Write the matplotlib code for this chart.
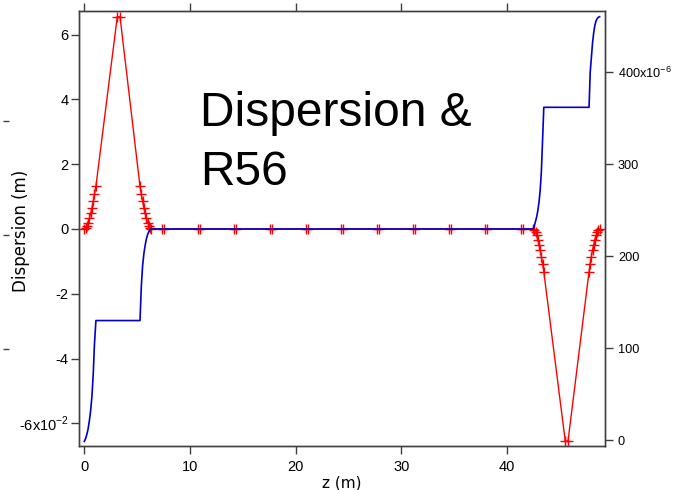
import matplotlib
matplotlib.use("Agg")
import matplotlib.pyplot as plt
from matplotlib.ticker import FixedLocator, FuncFormatter

plt.rcParams['font.family'] = ['Liberation Sans', 'DejaVu Sans']
plt.rcParams['mathtext.fontset'] = 'custom'
plt.rcParams['mathtext.rm'] = 'Liberation Sans'

# dispersion (m) along z (m), red trace with slice markers
z_disp = [0.0, 0.12, 0.24, 0.36, 0.48, 0.60, 0.72, 0.84, 0.96, 1.10,
          3.12, 3.38,
          5.27, 5.40, 5.52, 5.64, 5.76, 5.88, 6.00, 6.12, 6.22, 6.32,
          7.37, 7.57, 10.76, 10.96, 14.15, 14.35, 17.54, 17.74, 20.93, 21.13,
          24.32, 24.52, 27.71, 27.91, 31.10, 31.30, 34.49, 34.69, 37.88, 38.08,
          41.27, 41.47,
          42.45, 42.57, 42.69, 42.80, 42.91, 43.02, 43.13, 43.24, 43.35, 43.47,
          45.50, 45.76,
          47.75, 47.86, 47.97, 48.08, 48.19, 48.30, 48.41, 48.52, 48.63, 48.75]
disp_cm = [0, 0.03, 0.10, 0.20, 0.33, 0.48, 0.65, 0.85, 1.07, 1.32,
           6.55, 6.55,
           1.32, 1.07, 0.85, 0.65, 0.48, 0.33, 0.20, 0.10, 0.03, 0,
           0, 0, 0, 0, 0, 0, 0, 0, 0, 0,
           0, 0, 0, 0, 0, 0, 0, 0, 0, 0,
           0, 0,
           0, -0.03, -0.10, -0.20, -0.33, -0.48, -0.65, -0.85, -1.07, -1.32,
           -6.55, -6.55,
           -1.32, -1.07, -0.85, -0.65, -0.48, -0.33, -0.20, -0.10, -0.03, 0]
disp = [v * 1e-2 for v in disp_cm]

# R56 (m) along z (m), blue trace
z_r56 = [0.0, 0.12, 0.24, 0.36, 0.48, 0.60, 0.72, 0.84, 0.96, 1.10,
         5.27, 5.40, 5.52, 5.64, 5.76, 5.88, 6.00, 6.12, 6.22, 6.32,
         42.45, 42.57, 42.69, 42.80, 42.91, 43.02, 43.13, 43.24, 43.35, 43.47,
         47.75, 47.86, 47.97, 48.08, 48.19, 48.30, 48.41, 48.52, 48.63, 48.75]
r56_um = [-1.5, 1.5, 6, 12, 21, 32, 47, 70, 104, 130,
          130, 168, 190, 203, 212, 219, 224, 227, 229, 229.6,
          229.6, 233, 238, 243, 250, 259, 272, 292, 325, 362,
          362, 400, 416, 432, 443, 451, 456, 458.5, 460, 460.6]
r56 = [v * 1e-6 for v in r56_um]

disp_ticks = [-0.06, -0.04, -0.02, 0, 0.02, 0.04, 0.06]
r56_ticks = [0, 100e-6, 200e-6, 300e-6, 400e-6]
z_ticks = [0, 10, 20, 30, 40]

fig = plt.figure(figsize=(6.73, 4.90), dpi=100)
ax = fig.add_axes([79 / 673, 44 / 490, 526 / 673, 435 / 490])
ax2 = ax.twinx()
ax3 = ax.twinx()

frame = '0.25'
tick_len = 5.8

ax.plot(z_disp, disp, color='#ff0000', lw=1.0, marker='+', ms=7, mew=1.0)
ax2.plot(z_r56, r56, color='#0000c8', lw=1.2)

ax.set_xlim(-0.5, 49.26)
ax.set_ylim(-0.067, 0.0673)
ax2.set_ylim(-6.5e-6, 466.8e-6)

ax.xaxis.set_major_locator(FixedLocator(z_ticks))
ax.yaxis.set_major_locator(FixedLocator(disp_ticks))
ax2.yaxis.set_major_locator(FixedLocator(r56_ticks))


def disp_fmt(v, pos):
    n = int(round(v * 100))
    if n == -6:
        return r'-6x10$^{\mathregular{-2}}$'
    return str(n)


def r56_fmt(v, pos):
    n = int(round(v * 1e6))
    if n == 400:
        return r'400x10$^{\mathregular{-6}}$'
    return str(n)


ax.yaxis.set_major_formatter(FuncFormatter(disp_fmt))
ax2.yaxis.set_major_formatter(FuncFormatter(r56_fmt))

ax.tick_params(axis='x', direction='out', length=tick_len, width=1, color=frame,
               top=True, labelsize=10.5, pad=4)
ax.tick_params(axis='y', direction='out', length=tick_len, width=1, color=frame,
               right=False, labelsize=10.5, pad=1.5)
ax2.tick_params(axis='y', direction='out', length=tick_len, width=1, color=frame,
                labelsize=9.2, pad=3.5)
for a in (ax, ax2):
    for s in a.spines.values():
        s.set_color(frame)
        s.set_linewidth(1.0)

# stray unlabeled axis at far left
for s in ax3.spines.values():
    s.set_visible(False)
ax3.yaxis.set_ticks_position('left')
ax3.spines['left'].set_position(('outward', 50.4))
ax3.set_ylim(-1.85, 1.965)
ax3.yaxis.set_major_locator(FixedLocator([-1, 0, 1]))
ax3.set_yticklabels([])
ax3.tick_params(axis='y', direction='out', length=4.5, width=1, color=frame)

ax.set_xlabel('z (m)', fontsize=11, family='DejaVu Sans', labelpad=1)
ax.set_ylabel('Dispersion (m)', fontsize=12, family='DejaVu Sans')
ax.yaxis.set_label_coords(-0.0932, 0.495)

fig.text(200 / 673, 1 - 185 / 490, 'Dispersion &\nR56', fontsize=34.5,
         family='Liberation Sans', ha='left', va='baseline', linespacing=1.4)

fig.savefig('out.png', dpi=100)
